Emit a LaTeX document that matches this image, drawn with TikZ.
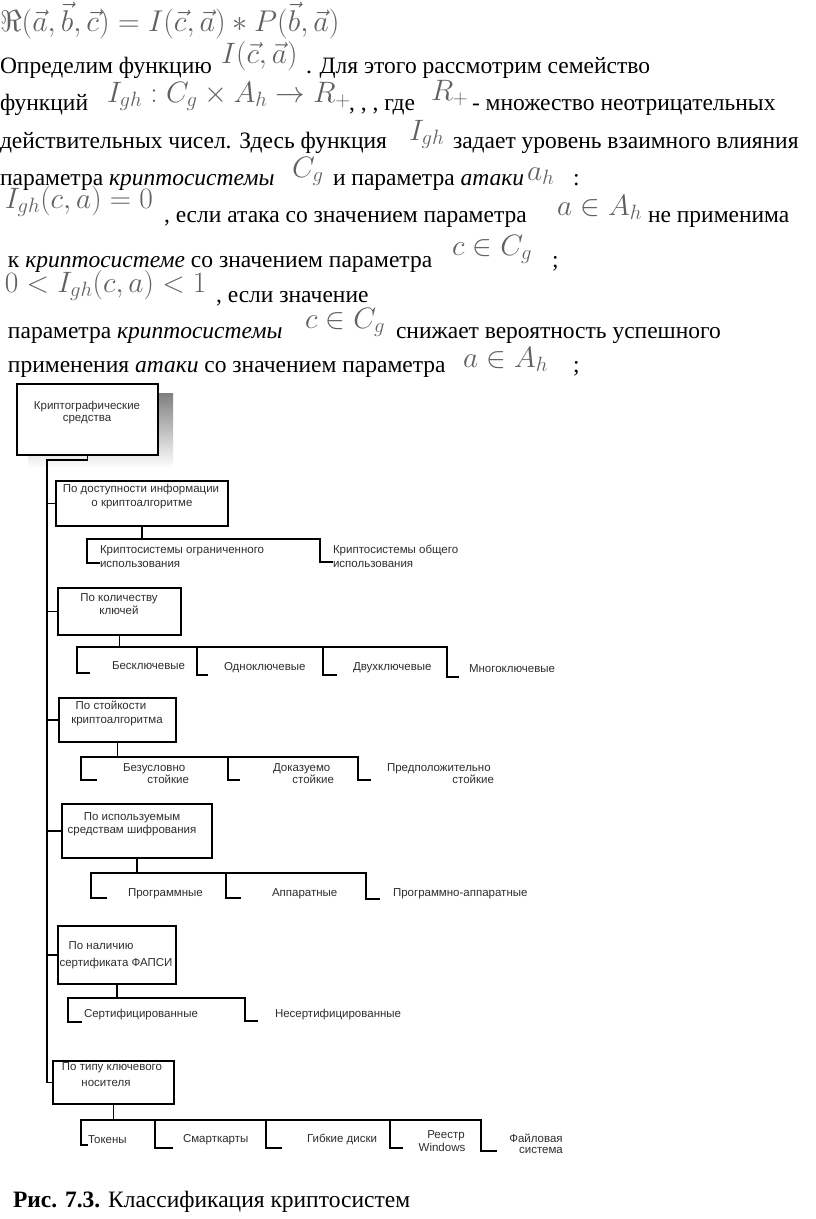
\RequirePackage{fix-cm}
\documentclass[tikz,border=0pt]{standalone}
\usepackage[no-math]{fontspec}
\setmainfont{Liberation Serif}
\newfontfamily\dsans{Liberation Sans}
\definecolor{mathgray}{gray}{0.38}
\definecolor{dtext}{gray}{0.18}
\definecolor{shade}{gray}{0.80}
\begin{document}
\begin{tikzpicture}[x=1pt,y=-1pt,
 txt/.style={anchor=base west,inner sep=0pt,outer sep=0pt,font=\fontsize{23.5}{28}\selectfont},
 mth/.style={anchor=base west,inner sep=0pt,outer sep=0pt,text=mathgray,font=\fontsize{29.5}{34}\selectfont},
 box/.style={draw,line width=2.9pt,fill=white,inner sep=0pt},
 dl/.style={inner sep=0pt,outer sep=0pt,text=dtext,font=\dsans\fontsize{11.5}{13}\selectfont},
 dlw/.style={dl,anchor=base west},
 dlc/.style={dl,anchor=base},
 dle/.style={dl,anchor=base east},
 conn/.style={line width=1.5pt,line join=miter},
]
\useasboundingbox (0,0) rectangle (816,1219);
\fill[white] (0,0) rectangle (816,1219);

% ---------- text ----------
\node[mth,font=\fontsize{30}{34}\selectfont] (m1) at (0,31) {$\Re(\vec{a},\vec{b},\vec{c})=I(\vec{c},\vec{a})*P(\vec{b},\vec{a})$};

\node[txt] (t2a) at (0,73) {Определим функцию};
\node[mth] (m2) at (221,63) {$I(\vec{c},\vec{a})$};
\node[txt] (t2b) at (306,73) {. Для этого рассмотрим семейство};

\node[txt] (t3a) at (0,110) {функций};
\node[mth] (m3a) at (107,102) {$I_{gh}:C_g\times A_h\to R_+$};
\node[txt] (t3b) at (349,110) {, , , где};
\node[mth] (m3b) at (431,100) {$R_+$};
\node[txt] (t3c) at (472,110) {- множество неотрицательных};

\node[txt] (t4a) at (0,148) {действительных чисел. Здесь функция};
\node[mth] (m4) at (409,140) {$I_{gh}$};
\node[txt] (t4b) at (453,148) {задает уровень взаимного влияния};

\node[txt] (t5a) at (0,185) {параметра \textit{криптосистемы}};
\node[mth] (m5a) at (292,177) {$C_g$};
\node[txt] (t5c) at (333,185) {и параметра \textit{атаки}};
\node[mth] (m5b) at (527,180) {$a_h$};
\node[txt] (t5e) at (573,185) {:};

\node[mth] (m6a) at (5,208) {$I_{gh}(c,a)=0$};
\node[txt] (t6a) at (164,222) {, если атака со значением параметра};
\node[mth] (m6b) at (557,215) {$a\in A_h$};
\node[txt] (t6b) at (648,222) {не применима};

\node[txt] (t7a) at (8,267) {к \textit{криптосистеме} со значением параметра};
\node[mth] (m7) at (452,255) {$c\in C_g$};
\node[txt] (t7d) at (552,267) {;};

\node[mth] (m8) at (5,292) {$0<I_{gh}(c,a)<1$};
\node[txt] (t8) at (216,302) {, если значение};

\node[txt] (t9a) at (8,338) {параметра \textit{криптосистемы}};
\node[mth] (m9) at (305,328) {$c\in C_g$};
\node[txt] (t9c) at (396,338) {снижает вероятность успешного};

\node[txt] (t10a) at (8,372) {применения \textit{атаки} со значением параметра};
\node[mth] (m10) at (463,367) {$a\in A_h$};
\node[txt] (t10d) at (573,372) {;};

\node[txt] (cap) at (13,1207) {\textbf{Рис. 7.3.} Классификация криптосистем};

% ---------- boxes ----------
\fill[shade] (28,393) rectangle (173,468);
\node[box,minimum width=141pt,minimum height=71pt] (b1) at (87.5,419.5) {};
\node[box,minimum width=172pt,minimum height=45pt] (b2) at (142,503.5) {};
\node[box,minimum width=123pt,minimum height=47pt] (b3) at (119.5,611.5) {};
\node[box,minimum width=117pt,minimum height=44pt] (b4) at (117.5,720) {};
\node[box,minimum width=150pt,minimum height=54pt] (b5) at (137,831) {};
\node[box,minimum width=118pt,minimum height=58pt] (b6) at (117,955) {};
\node[box,minimum width=121pt,minimum height=43pt] (b7) at (113.5,1082.5) {};

\node[dlc] (l1a) at (87,409) {Криптографические};
\node[dlc] (l1b) at (87,421) {средства};
\node[dlc] (l2a) at (141,492) {По доступности информации};
\node[dlc] (l2b) at (142,506) {о криптоалгоритме};
\node[dlc] (l3a) at (119,601) {По количеству};
\node[dlc] (l3b) at (119,614) {ключей};
\node[dlc] (l4a) at (111,709) {По стойкости};
\node[dlc] (l4b) at (117,723) {криптоалгоритма};
\node[dlc] (l5a) at (132,820) {По используемым};
\node[dlc] (l5b) at (132,833) {средствам шифрования};
\node[dlc] (l6a) at (101,949) {По наличию};
\node[dlc] (l6b) at (116,966) {сертификата ФАПСИ};
\node[dlc] (l7a) at (112,1070) {По типу ключевого};
\node[dlc] (l7b) at (106,1086) {носителя};

% ---------- leaves ----------
\node[dlw] (c21a) at (100,553) {Криптосистемы ограниченного};
\node[dlw] (c21b) at (100,567) {использования};
\node[dlw] (c22a) at (333,553) {Криптосистемы общего};
\node[dlw] (c22b) at (333,567) {использования};

\node[dlw] (c31) at (112,669) {Бесключевые};
\node[dlw] (c32) at (224,670) {Одноключевые};
\node[dlw] (c33) at (353,670) {Двухключевые};
\node[dlw] (c34) at (469,672) {Многоключевые};

\node[dlw] (c41a) at (123,771) {Безусловно};
\node[dle] (c41b) at (189,783) {стойкие};
\node[dlw] (c42a) at (273,771) {Доказуемо};
\node[dle] (c42b) at (334,783) {стойкие};
\node[dlw] (c43a) at (387,771) {Предположительно};
\node[dle] (c43b) at (494,783) {стойкие};

\node[dlw] (c51) at (128,896) {Программные};
\node[dlw] (c52) at (272,896) {Аппаратные};
\node[dlw] (c53) at (393,896) {Программно-аппаратные};

\node[dlw] (c61) at (84,1017) {Сертифицированные};
\node[dlw] (c62) at (275,1017) {Несертифицированные};

\node[dlw] (c71) at (88,1143) {Токены};
\node[dlw] (c72) at (183,1142) {Смарткарты};
\node[dlw] (c73) at (307,1142) {Гибкие диски};
\node[dlc] (c74a) at (446,1138) {Реестр};
\node[dlc] (c74b) at (442,1151) {Windows};
\node[dlc] (c75a) at (536,1142) {Файловая};
\node[dlc] (c75b) at (541,1153) {система};

% ---------- connectors ----------
\coordinate (tr) at (47,460);
\draw[conn] (b1.south) |- (tr) -- (tr |- b7.west) -- (b7.west);
\foreach \b in {b2,b3,b4,b5,b6} \draw[conn] (tr |- \b.west) -- (\b.west);

\draw[conn] (b2.south) -- (b2.south |- 0,539);
\draw[conn] (100,563) -- (87,563) -- (87,539) -- (320,539) -- (320,562) -- (333,562);

\draw[conn] (b3.south) -- (b3.south |- 0,647);
\draw[conn] (90,673) -- (77,673) -- (77,647) -- (447,647) -- (447,677) -- (459,677);
\draw[conn] (197,647) -- (197,675) -- (208,675);
\draw[conn] (323,647) -- (323,675) -- (337,675);

\draw[conn] (b4.south) -- (b4.south |- 0,757);
\draw[conn] (97,780) -- (81,780) -- (81,757) -- (358,757) -- (358,780) -- (371,780);
\draw[conn] (228,757) -- (228,780) -- (240,780);

\draw[conn] (b5.south) -- (b5.south |- 0,873);
\draw[conn] (107,898) -- (91,898) -- (91,873) -- (366,873) -- (366,899) -- (380,899);
\draw[conn] (226,873) -- (226,898) -- (241,898);

\draw[conn] (b6.south) -- (b6.south |- 0,998);
\draw[conn] (82,1022) -- (68,1022) -- (68,998) -- (245,998) -- (245,1021) -- (258,1021);

\draw[conn] (b7.south) -- (b7.south |- 0,1120);
\draw[conn] (88,1145) -- (81,1145) -- (81,1120) -- (481,1120) -- (481,1151) -- (497,1151);
\draw[conn] (155,1120) -- (155,1148) -- (173,1148);
\draw[conn] (266,1120) -- (266,1148) -- (282,1148);
\draw[conn] (390,1120) -- (390,1148) -- (403,1148);
\end{tikzpicture}
\end{document}
